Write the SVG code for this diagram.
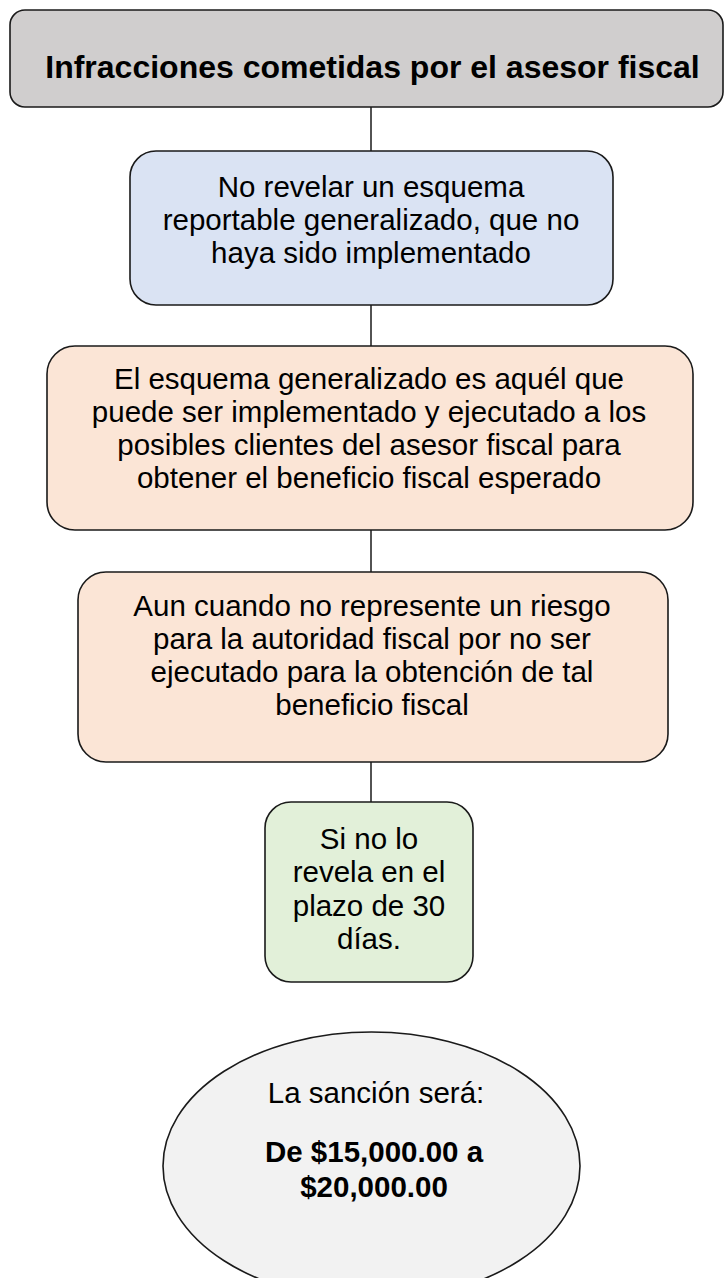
<svg xmlns="http://www.w3.org/2000/svg" width="724" height="1278" viewBox="0 0 724 1278">
<style>
.box{stroke:#1a1a1a;stroke-width:1.6}
.t{font-family:"Liberation Sans",Arial,sans-serif;font-size:29.5px;fill:#000;text-anchor:middle}
.b{font-weight:bold}
.c{stroke:#1a1a1a;stroke-width:1.5;fill:none}
</style>
<rect width="724" height="1278" fill="#ffffff"/>
<g id="connectors">
<line class="c" x1="371" y1="107" x2="371" y2="151"/>
<line class="c" x1="371" y1="305" x2="371" y2="346"/>
<line class="c" x1="371" y1="530" x2="371" y2="572"/>
<line class="c" x1="371" y1="762" x2="371" y2="802"/>
</g>
<g id="title">
<rect class="box" x="10" y="10" width="713" height="97" rx="15" fill="#d0cece"/>
<text class="t b" x="372.5" y="78" style="font-size:32px">Infracciones cometidas por el asesor fiscal</text>
</g>
<g id="node1">
<rect class="box" x="130" y="151" width="483" height="154" rx="26" fill="#dae3f3"/>
<text class="t" x="371" y="197">No revelar un esquema</text>
<text class="t" x="371" y="230">reportable generalizado, que no</text>
<text class="t" x="371" y="263">haya sido implementado</text>
</g>
<g id="node2">
<rect class="box" x="47" y="346" width="646" height="184" rx="28" fill="#fbe5d6"/>
<text class="t" x="369" y="389">El esquema generalizado es aquél que</text>
<text class="t" x="369" y="422">puede ser implementado y ejecutado a los</text>
<text class="t" x="369" y="455">posibles clientes del asesor fiscal para</text>
<text class="t" x="369" y="488">obtener el beneficio fiscal esperado</text>
</g>
<g id="node3">
<rect class="box" x="78" y="572" width="590" height="190" rx="28" fill="#fbe5d6"/>
<text class="t" x="372" y="616">Aun cuando no represente un riesgo</text>
<text class="t" x="372" y="649">para la autoridad fiscal por no ser</text>
<text class="t" x="372" y="682">ejecutado para la obtención de tal</text>
<text class="t" x="372" y="715">beneficio fiscal</text>
</g>
<g id="node4">
<rect class="box" x="265" y="802" width="208" height="180" rx="26" fill="#e2f0d9"/>
<text class="t" x="369" y="849">Si no lo</text>
<text class="t" x="369" y="882">revela en el</text>
<text class="t" x="369" y="916">plazo de 30</text>
<text class="t" x="369" y="949">días.</text>
</g>
<g id="sanction">
<ellipse class="box" cx="371.5" cy="1166" rx="208.5" ry="134" fill="#f2f2f2"/>
<text class="t" x="376" y="1103">La sanción será:</text>
<text class="t b" x="374" y="1162">De $15,000.00 a</text>
<text class="t b" x="374" y="1197">$20,000.00</text>
</g>
</svg>
